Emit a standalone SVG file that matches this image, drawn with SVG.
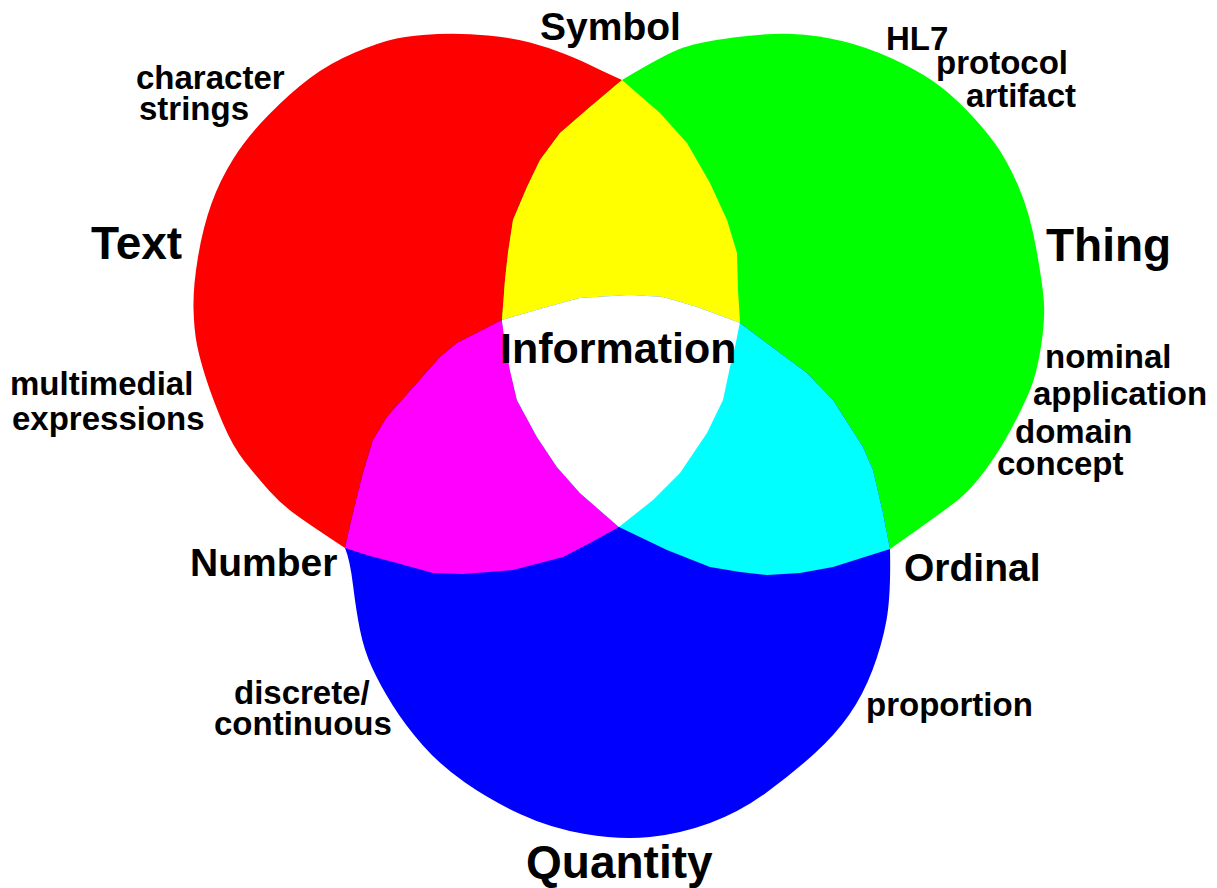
<svg xmlns="http://www.w3.org/2000/svg" xmlns:xlink="http://www.w3.org/1999/xlink" width="1217" height="888" viewBox="0 0 1217 888">
  <style>
    text { font-family: "Liberation Sans", Arial, Helvetica, sans-serif; font-weight: bold; fill: #000; }
    .sm { font-size: 33px; }
    .md { font-size: 39px; }
    .lg { font-size: 46px; }
    .core { font-size: 43px; }
  </style>
  <defs>
    <!-- outline of each of the three overlapping sets: smooth outer rim, then the inner edges -->
    <path id="shapeText" d="M622,80 Q600,70 590,65 Q580,60 563.5,53.5 Q547,47 530,42.5 Q513,38 488,35.5 Q463,33 438,34 Q413,35 396.5,38.5 Q380,42 355,52.5 Q330,63 310,78 Q290,93 268.5,115 Q247,137 233.5,158.5 Q220,180 211.5,203.5 Q203,227 198,257 Q193,287 193.5,308.5 Q194,330 197,345 Q200,360 206.5,380 Q213,400 223,423.5 Q233,447 245,462 Q257,477 268.5,490 Q280,503 293.5,513 Q307,523 345,548 L370,556 L397,563 L433,573 L463,574 L513,570 L563,557 L590,543 L619,527 L653,500 L680,473 L707,433 L723,400 L730,367 L735,347 L740,322 L738,290 L737,253 L727,220 L710,183 L687,143 L660,113 Z"/>
    <path id="shapeThing" d="M622,80 Q667,53 683.5,47.5 Q700,42 733.5,37.5 Q767,33 792,34 Q817,35 842,41 Q867,47 892,58.5 Q917,70 933.5,81.5 Q950,93 966.5,110 Q983,127 995,143.5 Q1007,160 1018.5,186.5 Q1030,213 1036.5,250 Q1043,287 1044,303.5 Q1045,320 1041,346.5 Q1037,373 1030,390 Q1023,407 1011.5,428.5 Q1000,450 986.5,468.5 Q973,487 961.5,497 Q950,507 890,549 L833,567 L800,573 L767,575 L740,572 L710,567 L667,550 L619,527 L580,493 L557,467 L537,437 L517,400 L510,370 L505,343 L502,320 L505,280 L508,253 L513,220 L527,187 L540,160 L560,133 L590,107 Z"/>
    <path id="shapeQuantity" d="M345,548 Q350,560 353,585 Q356,610 360,630 Q364,650 372,667.5 Q380,685 392.5,705 Q405,725 422.5,745 Q440,765 465,782.5 Q490,800 520,814 Q550,828 585,834 Q620,840 650,837 Q680,834 710,823 Q740,812 766.5,792.5 Q793,773 814,754 Q835,735 849,715 Q863,695 872.5,670 Q882,645 886.5,620 Q891,595 890,549 L883,513 L873,470 L863,447 L833,400 L807,373 L740,323 L697,307 L663,297 L630,295 L580,298 L547,307 L502,320 L457,343 L440,357 L387,417 L373,440 L363,473 L353,513 Z"/>
    <clipPath id="inText"><use xlink:href="#shapeText"/></clipPath>
    <clipPath id="inThing"><use xlink:href="#shapeThing"/></clipPath>
  </defs>

  <!-- primary sets -->
  <g id="set-text"><use xlink:href="#shapeText" fill="#ff0000"/></g>
  <g id="set-thing"><use xlink:href="#shapeThing" fill="#00ff00"/></g>
  <g id="set-quantity"><use xlink:href="#shapeQuantity" fill="#0000ff"/></g>

  <!-- pairwise overlaps -->
  <g id="overlap-symbol"><use xlink:href="#shapeThing" fill="#ffff00" clip-path="url(#inText)"/></g>
  <g id="overlap-number"><use xlink:href="#shapeQuantity" fill="#ff00ff" clip-path="url(#inText)"/></g>
  <g id="overlap-ordinal"><use xlink:href="#shapeQuantity" fill="#00ffff" clip-path="url(#inThing)"/></g>

  <!-- centre where all three meet -->
  <g id="overlap-information" clip-path="url(#inText)"><use xlink:href="#shapeQuantity" fill="#ffffff" clip-path="url(#inThing)"/></g>

  <g id="labels">
    <text class="md" x="540" y="40">Symbol</text>
    <text class="sm" x="886" y="50">HL7</text>
    <text class="sm" x="936" y="74">protocol</text>
    <text class="sm" x="966" y="107">artifact</text>
    <text class="sm" x="136" y="89">character</text>
    <text class="sm" x="139" y="120">strings</text>
    <text class="lg" x="91" y="259">Text</text>
    <text class="lg" x="1046" y="261">Thing</text>
    <text class="core" x="500" y="363">Information</text>
    <text class="sm" x="10" y="395">multimedial</text>
    <text class="sm" x="12" y="430">expressions</text>
    <text class="sm" x="1045" y="368">nominal</text>
    <text class="sm" x="1033" y="405">application</text>
    <text class="sm" x="1015" y="443">domain</text>
    <text class="sm" x="997" y="475">concept</text>
    <text class="md" x="190" y="576">Number</text>
    <text class="md" x="904" y="581">Ordinal</text>
    <text class="sm" x="234" y="704">discrete/</text>
    <text class="sm" x="214" y="735">continuous</text>
    <text class="sm" x="866" y="716">proportion</text>
    <text class="lg" x="526" y="878">Quantity</text>
  </g>
</svg>
